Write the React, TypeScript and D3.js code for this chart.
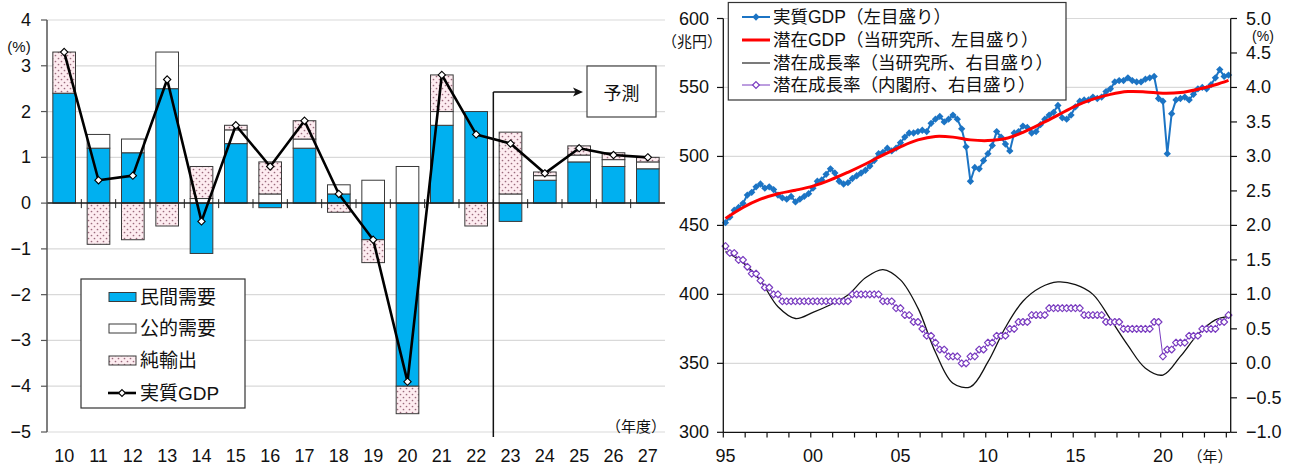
import React from 'react';
import * as d3 from 'd3';

// ---------- Left panel: contributions to real GDP growth (fiscal years) ----------
const FISCAL_YEARS = ['10', '11', '12', '13', '14', '15', '16', '17', '18', '19', '20', '21', '22', '23', '24', '25', '26', '27'];
const privateDemand = [2.4, 1.2, 1.1, 2.5, -1.1, 1.3, -0.1, 1.2, 0.2, -0.8, -4.0, 1.7, 2.0, -0.4, 0.5, 0.9, 0.8, 0.75];
const publicDemand = [0.0, 0.3, 0.3, 0.8, 0.1, 0.3, 0.2, 0.2, 0.2, 0.5, 0.8, 0.3, 0.0, 0.2, 0.1, 0.15, 0.15, 0.15];
const netExports = [0.9, -0.9, -0.8, -0.5, 0.7, 0.1, 0.7, 0.4, -0.2, -0.5, -0.6, 0.8, -0.5, 1.35, 0.08, 0.2, 0.15, 0.1];
const realGdpGrowth = [3.3, 0.5, 0.6, 2.7, -0.4, 1.7, 0.8, 1.8, 0.2, -0.8, -3.9, 2.8, 1.5, 1.3, 0.65, 1.2, 1.05, 1.0];
const LEFT_Y_TICKS = [4, 3, 2, 1, 0, -1, -2, -3, -4, -5];
const FORECAST_START = '23';

// ---------- Right panel: quarterly real / potential GDP, 1995Q1-2023Q4 ----------
const realGdpQuarterly = [
  452, 456, 461, 463, 466, 472, 474, 478, 480, 477, 478, 476, 472, 470, 469, 471,
  467, 469, 471, 473, 477, 482, 483, 487, 491, 488, 482, 480, 481, 484, 486, 488,
  490, 493, 497, 502, 503, 506, 504, 506, 510, 514, 517, 517, 518, 519, 518, 524,
  527, 529, 525, 527, 530, 527, 520, 507, 482, 492, 491, 497, 502, 508, 518, 514,
  509, 504, 517, 518, 522, 521, 517, 518, 523, 527, 530, 532, 537, 528, 527, 530,
  536, 540, 541, 541, 543, 542, 543, 547, 549, 554, 555, 555, 557, 555, 554, 554,
  556, 557, 558, 542, 540, 502, 531, 541, 542, 543, 541, 545, 549, 550, 549, 552,
  557, 563, 558, 559,
];
// [quarter index, trillion yen]
const potentialGdp: [number, number][] = [
  [0, 455], [4, 463], [8, 469], [12, 473], [16, 475.5], [20, 478.5], [24, 483], [28, 488.5],
  [32, 494.5], [36, 501], [40, 507], [44, 512], [48, 514.5], [52, 514], [56, 512], [60, 511.5],
  [64, 513], [68, 517.5], [72, 523.5], [76, 530], [80, 536.5], [84, 541.5], [88, 545], [92, 547],
  [96, 546.8], [100, 545.8], [104, 546.3], [108, 548.7], [112, 552], [115, 555.2],
];
// [quarter index, %]
const potentialGrowthInstitute: [number, number][] = [
  [0, 1.62], [4, 1.46], [8, 1.2], [12, 0.82], [16, 0.65], [20, 0.74], [24, 0.85], [28, 0.99],
  [32, 1.24], [36, 1.36], [40, 1.21], [44, 0.8], [48, 0.16], [52, -0.29], [56, -0.34], [60, 0.02],
  [64, 0.52], [68, 0.9], [72, 1.1], [76, 1.18], [80, 1.14], [84, 1.0], [88, 0.64], [92, 0.26],
  [96, -0.07], [100, -0.17], [104, 0.1], [108, 0.42], [112, 0.63], [115, 0.68],
];
const potentialGrowthCabinet = [
  1.7, 1.6, 1.6, 1.5, 1.5, 1.4, 1.3, 1.3, 1.2, 1.1, 1.1, 1.0, 1.0, 0.9, 0.9, 0.9,
  0.9, 0.9, 0.9, 0.9, 0.9, 0.9, 0.9, 0.9, 0.9, 0.9, 0.9, 0.9, 0.9, 1.0, 1.0, 1.0,
  1.0, 1.0, 1.0, 1.0, 0.9, 0.9, 0.9, 0.8, 0.8, 0.7, 0.7, 0.6, 0.6, 0.5, 0.4, 0.4,
  0.3, 0.2, 0.2, 0.1, 0.1, 0.1, 0.0, 0.0, 0.1, 0.1, 0.2, 0.2, 0.3, 0.3, 0.4, 0.4,
  0.4, 0.5, 0.5, 0.6, 0.6, 0.6, 0.7, 0.7, 0.7, 0.7, 0.8, 0.8, 0.8, 0.8, 0.8, 0.8,
  0.8, 0.8, 0.7, 0.7, 0.7, 0.7, 0.7, 0.6, 0.6, 0.6, 0.6, 0.5, 0.5, 0.5, 0.5, 0.5,
  0.5, 0.5, 0.6, 0.6, 0.1, 0.2, 0.2, 0.3, 0.3, 0.3, 0.4, 0.4, 0.4, 0.5, 0.5, 0.5,
  0.5, 0.6, 0.6, 0.7,
];
const LEFT_LEVEL_TICKS = [600, 550, 500, 450, 400, 350, 300];
const RIGHT_RATE_TICKS = [5.0, 4.5, 4.0, 3.5, 3.0, 2.5, 2.0, 1.5, 1.0, 0.5, 0.0, -0.5, -1.0];
const YEAR_LABELS = ['95', '00', '05', '10', '15', '20'];

const FONT = "'Liberation Sans', 'Noto Sans CJK JP', sans-serif";
const JP = "'Noto Sans CJK JP', 'Liberation Sans', sans-serif";
const GRID = '#d9d9d9';
const BAR_BLUE = '#00b0f0';
const LINE_BLUE = '#1c74c4';
const PURPLE = '#7a3cc0';
const fmtMinus = (s: string) => s.replace('-', '\u2212');

const diamond = (size: number) => d3.symbol().type(d3.symbolDiamond2).size(size)() as string;

function LeftPanel() {
  const x = d3.scaleBand<string>().domain(FISCAL_YEARS).range([47, 665]).paddingInner(0.34).paddingOuter(0.17);
  const y = d3.scaleLinear().domain([-5, 4]).range([432, 20]);
  const step = x.step();
  const bw = x.bandwidth();
  const cx = (fy: string) => (x(fy) as number) + bw / 2;

  const rows = FISCAL_YEARS.map((fy, i) => ({ fy, priv: privateDemand[i], pub: publicDemand[i], net: netExports[i] }));
  const stacked = d3.stack<any>().keys(['priv', 'pub', 'net']).offset(d3.stackOffsetDiverging)(rows);
  const fills: Record<string, string> = { priv: BAR_BLUE, pub: '#ffffff', net: 'url(#dots)' };

  const gdpLine = d3.line<number>().x((_, i) => cx(FISCAL_YEARS[i])).y((d) => y(d))(realGdpGrowth) as string;
  const y0 = y(0);
  const boundaryX = (k: number) => 47 + k * step;
  const forecastX = (x(FORECAST_START) as number) - (step - bw) / 2;

  return (
    <g>
      {LEFT_Y_TICKS.map((t) => (
        <line key={'g' + t} x1={47} x2={665} y1={y(t)} y2={y(t)} stroke={GRID} strokeWidth={1.2} />
      ))}
      {stacked.map((s) =>
        s.map((d, i) => {
          const a = y(d[0]);
          const b = y(d[1]);
          if (Math.abs(a - b) < 0.01) return null;
          return (
            <rect
              key={s.key + i}
              x={x(FISCAL_YEARS[i])}
              y={Math.min(a, b)}
              width={bw}
              height={Math.abs(a - b)}
              fill={fills[s.key]}
              stroke="#3a3a3a"
              strokeWidth={1}
            />
          );
        })
      )}
      {/* zero line with category ticks */}
      <line x1={47} x2={665} y1={y0} y2={y0} stroke="#222" strokeWidth={1.5} />
      {d3.range(1, 18).map((k) => (
        <line key={'zt' + k} x1={boundaryX(k)} x2={boundaryX(k)} y1={y0 - 4} y2={y0 + 5} stroke="#222" strokeWidth={1} />
      ))}
      {/* left axis */}
      <line x1={47} x2={47} y1={20} y2={432} stroke="#555" strokeWidth={1.5} />
      {LEFT_Y_TICKS.map((t) => (
        <g key={'yt' + t}>
          <line x1={41} x2={47} y1={y(t)} y2={y(t)} stroke="#555" strokeWidth={1.2} />
          <text x={31} y={y(t)} textAnchor="end" dominantBaseline="central" fontSize={18} fontFamily={FONT} fill="#111">
            {fmtMinus(String(t))}
          </text>
        </g>
      ))}
      <text x={19} y={46} textAnchor="middle" dominantBaseline="central" fontSize={15} fontFamily={FONT} fill="#111">(%)</text>
      {FISCAL_YEARS.map((fy) => (
        <text key={'xl' + fy} x={cx(fy)} y={456} textAnchor="middle" dominantBaseline="central" fontSize={18} fontFamily={FONT} fill="#111">
          {fy}
        </text>
      ))}
      <text x={666} y={425} textAnchor="end" dominantBaseline="central" fontSize={15} fontFamily={JP} fill="#111">（年度）</text>

      {/* real GDP growth */}
      <path d={gdpLine} fill="none" stroke="#000" strokeWidth={2.6} strokeLinejoin="round" />
      {realGdpGrowth.map((v, i) => (
        <path key={'gm' + i} d={diamond(34)} transform={`translate(${cx(FISCAL_YEARS[i])},${y(v)})`} fill="#fff" stroke="#000" strokeWidth={1.1} />
      ))}

      {/* forecast marker */}
      <line x1={forecastX} x2={forecastX} y1={92} y2={437} stroke="#111" strokeWidth={1.5} />
      <line x1={forecastX} x2={578} y1={92} y2={92} stroke="#111" strokeWidth={1.3} />
      <path d="M 583 92 L 573 87.5 L 575.5 92 L 573 96.5 Z" fill="#111" />
      <rect x={587} y={66} width={69} height={51} fill="#fff" stroke="#444" strokeWidth={1.2} />
      <text x={621.5} y={92} textAnchor="middle" dominantBaseline="central" fontSize={18} fontFamily={JP} fill="#111">予測</text>

      {/* legend */}
      <rect x={81} y={279} width={164} height={129} fill="#fff" stroke="#333" strokeWidth={1.2} />
      {[
        { label: '民間需要', kind: 'priv' },
        { label: '公的需要', kind: 'pub' },
        { label: '純輸出', kind: 'net' },
        { label: '実質GDP', kind: 'gdp' },
      ].map((item, k) => {
        const ry = [297, 328.5, 360.5, 393][k];
        return (
          <g key={item.kind}>
            {item.kind === 'gdp' ? (
              <g>
                <line x1={108} x2={136} y1={ry} y2={ry} stroke="#000" strokeWidth={2.6} />
                <path d={diamond(30)} transform={`translate(122,${ry})`} fill="#fff" stroke="#000" strokeWidth={1.1} />
              </g>
            ) : (
              <rect x={109} y={ry - 4.5} width={27} height={9} fill={fills[item.kind]} stroke="#3a3a3a" strokeWidth={1} />
            )}
            <text x={140} y={ry} dominantBaseline="central" fontSize={19} fontFamily={FONT} fill="#111">{item.label}</text>
          </g>
        );
      })}
    </g>
  );
}

function RightPanel() {
  const n = realGdpQuarterly.length;
  const xq = d3.scaleLinear().domain([0, n]).range([723.3, 1230.7]);
  const px = (i: number) => xq(i + 0.5);
  const yL = d3.scaleLinear().domain([300, 600]).range([432.3, 18.5]);
  const yR = d3.scaleLinear().domain([-1, 5]).range([432.3, 18.5]);

  const gdpPath = d3.line<number>().x((_, i) => px(i)).y((d) => yL(d))(realGdpQuarterly) as string;
  const potGdpPath = d3.line<[number, number]>().x((d) => px(d[0])).y((d) => yL(d[1])).curve(d3.curveCatmullRom.alpha(0.5))(potentialGdp) as string;
  const potInstPath = d3.line<[number, number]>().x((d) => px(d[0])).y((d) => yR(d[1])).curve(d3.curveCatmullRom.alpha(0.5))(potentialGrowthInstitute) as string;
  const cabinetPath = d3.line<number>().x((_, i) => px(i)).y((d) => yR(d))(potentialGrowthCabinet) as string;

  const legendRows = [
    { label: '実質GDP（左目盛り）', kind: 'gdp' },
    { label: '潜在GDP（当研究所、左目盛り）', kind: 'pot' },
    { label: '潜在成長率（当研究所、右目盛り）', kind: 'inst' },
    { label: '潜在成長率（内閣府、右目盛り）', kind: 'cab' },
  ];

  return (
    <g>
      {LEFT_LEVEL_TICKS.filter((t) => t > 300).map((t) => (
        <line key={'rg' + t} x1={723.3} x2={1230.7} y1={yL(t)} y2={yL(t)} stroke={GRID} strokeWidth={1.2} />
      ))}

      {/* potential growth, this institute */}
      <path d={potInstPath} fill="none" stroke="#111" strokeWidth={1.3} />
      {/* potential growth, Cabinet Office */}
      <path d={cabinetPath} fill="none" stroke={PURPLE} strokeWidth={1} />
      {potentialGrowthCabinet.map((v, i) => (
        <path key={'cm' + i} d={diamond(30)} transform={`translate(${px(i)},${yR(v)})`} fill="#fff" stroke={PURPLE} strokeWidth={1.2} strokeLinejoin="round" />
      ))}
      {/* real GDP */}
      <path d={gdpPath} fill="none" stroke={LINE_BLUE} strokeWidth={2} strokeLinejoin="round" />
      {realGdpQuarterly.map((v, i) => (
        <path key={'bm' + i} d={diamond(34)} transform={`translate(${px(i)},${yL(v)})`} fill={LINE_BLUE} />
      ))}
      {/* potential GDP */}
      <path d={potGdpPath} fill="none" stroke="#ff0000" strokeWidth={3} />

      {/* axes */}
      <line x1={723.3} x2={723.3} y1={18.5} y2={432.3} stroke="#111" strokeWidth={1.3} />
      <line x1={1230.7} x2={1230.7} y1={18.5} y2={432.3} stroke="#111" strokeWidth={1.3} />
      <line x1={723.3} x2={1230.7} y1={432.3} y2={432.3} stroke="#111" strokeWidth={1.3} />
      {LEFT_LEVEL_TICKS.map((t) => (
        <g key={'lt' + t}>
          <line x1={717} x2={723.3} y1={yL(t)} y2={yL(t)} stroke="#111" strokeWidth={1.2} />
          <text x={709} y={yL(t)} textAnchor="end" dominantBaseline="central" fontSize={18} fontFamily={FONT} fill="#111">{t}</text>
        </g>
      ))}
      {RIGHT_RATE_TICKS.map((t) => (
        <g key={'rt' + t}>
          <line x1={1230.7} x2={1237} y1={yR(t)} y2={yR(t)} stroke="#111" strokeWidth={1.2} />
          <text x={1246} y={yR(t)} dominantBaseline="central" fontSize={18} fontFamily={FONT} fill="#111">{fmtMinus(t.toFixed(1))}</text>
        </g>
      ))}
      {d3.range(0, n, 5).map((k) => (
        <line key={'xt' + k} x1={xq(k)} x2={xq(k)} y1={432.3} y2={437.5} stroke="#111" strokeWidth={1.2} />
      ))}
      {YEAR_LABELS.map((lab, k) => (
        <text key={'yl' + lab} x={px(k * 20)} y={456} textAnchor="middle" dominantBaseline="central" fontSize={18} fontFamily={FONT} fill="#111">{lab}</text>
      ))}
      <text x={1210} y={455} textAnchor="middle" dominantBaseline="central" fontSize={15} fontFamily={JP} fill="#111">（年）</text>
      <text x={692} y={40} textAnchor="middle" dominantBaseline="central" fontSize={15} fontFamily={JP} fill="#111">（兆円）</text>
      <text x={1263} y={36} textAnchor="middle" dominantBaseline="central" fontSize={14} fontFamily={FONT} fill="#111">(%)</text>

      {/* legend */}
      <rect x={728.3} y={2.5} width={337.7} height={97.5} fill="#fff" stroke="#333" strokeWidth={1.2} />
      {legendRows.map((r, k) => {
        const ry = [17, 40, 63, 85][k];
        return (
          <g key={r.kind}>
            {r.kind === 'gdp' && (
              <g>
                <line x1={742} x2={770} y1={ry} y2={ry} stroke={LINE_BLUE} strokeWidth={2} />
                <path d={diamond(34)} transform={`translate(756,${ry})`} fill={LINE_BLUE} />
              </g>
            )}
            {r.kind === 'pot' && <line x1={742} x2={770} y1={ry} y2={ry} stroke="#ff0000" strokeWidth={3} />}
            {r.kind === 'inst' && <line x1={742} x2={770} y1={ry} y2={ry} stroke="#222" strokeWidth={1.2} />}
            {r.kind === 'cab' && (
              <g>
                <line x1={742} x2={770} y1={ry} y2={ry} stroke={PURPLE} strokeWidth={1} />
                <path d={diamond(30)} transform={`translate(756,${ry})`} fill="#fff" stroke={PURPLE} strokeWidth={1.2} />
              </g>
            )}
            <text x={773} y={ry} dominantBaseline="central" fontSize={17.5} fontFamily={FONT} fill="#111">{r.label}</text>
          </g>
        );
      })}
    </g>
  );
}

export default function App() {
  return (
    <svg width={1293} height={465} style={{ position: 'absolute', left: 0, top: 0, display: 'block', background: '#fff' }}>
      <defs>
        <pattern id="dots" width={6} height={6} patternUnits="userSpaceOnUse">
          <rect width={6} height={6} fill="#fdecf0" />
          <circle cx={1.5} cy={1.5} r={0.85} fill="#9b6a7c" />
          <circle cx={4.5} cy={4.5} r={0.85} fill="#9b6a7c" />
        </pattern>
      </defs>
      <LeftPanel />
      <RightPanel />
    </svg>
  );
}
